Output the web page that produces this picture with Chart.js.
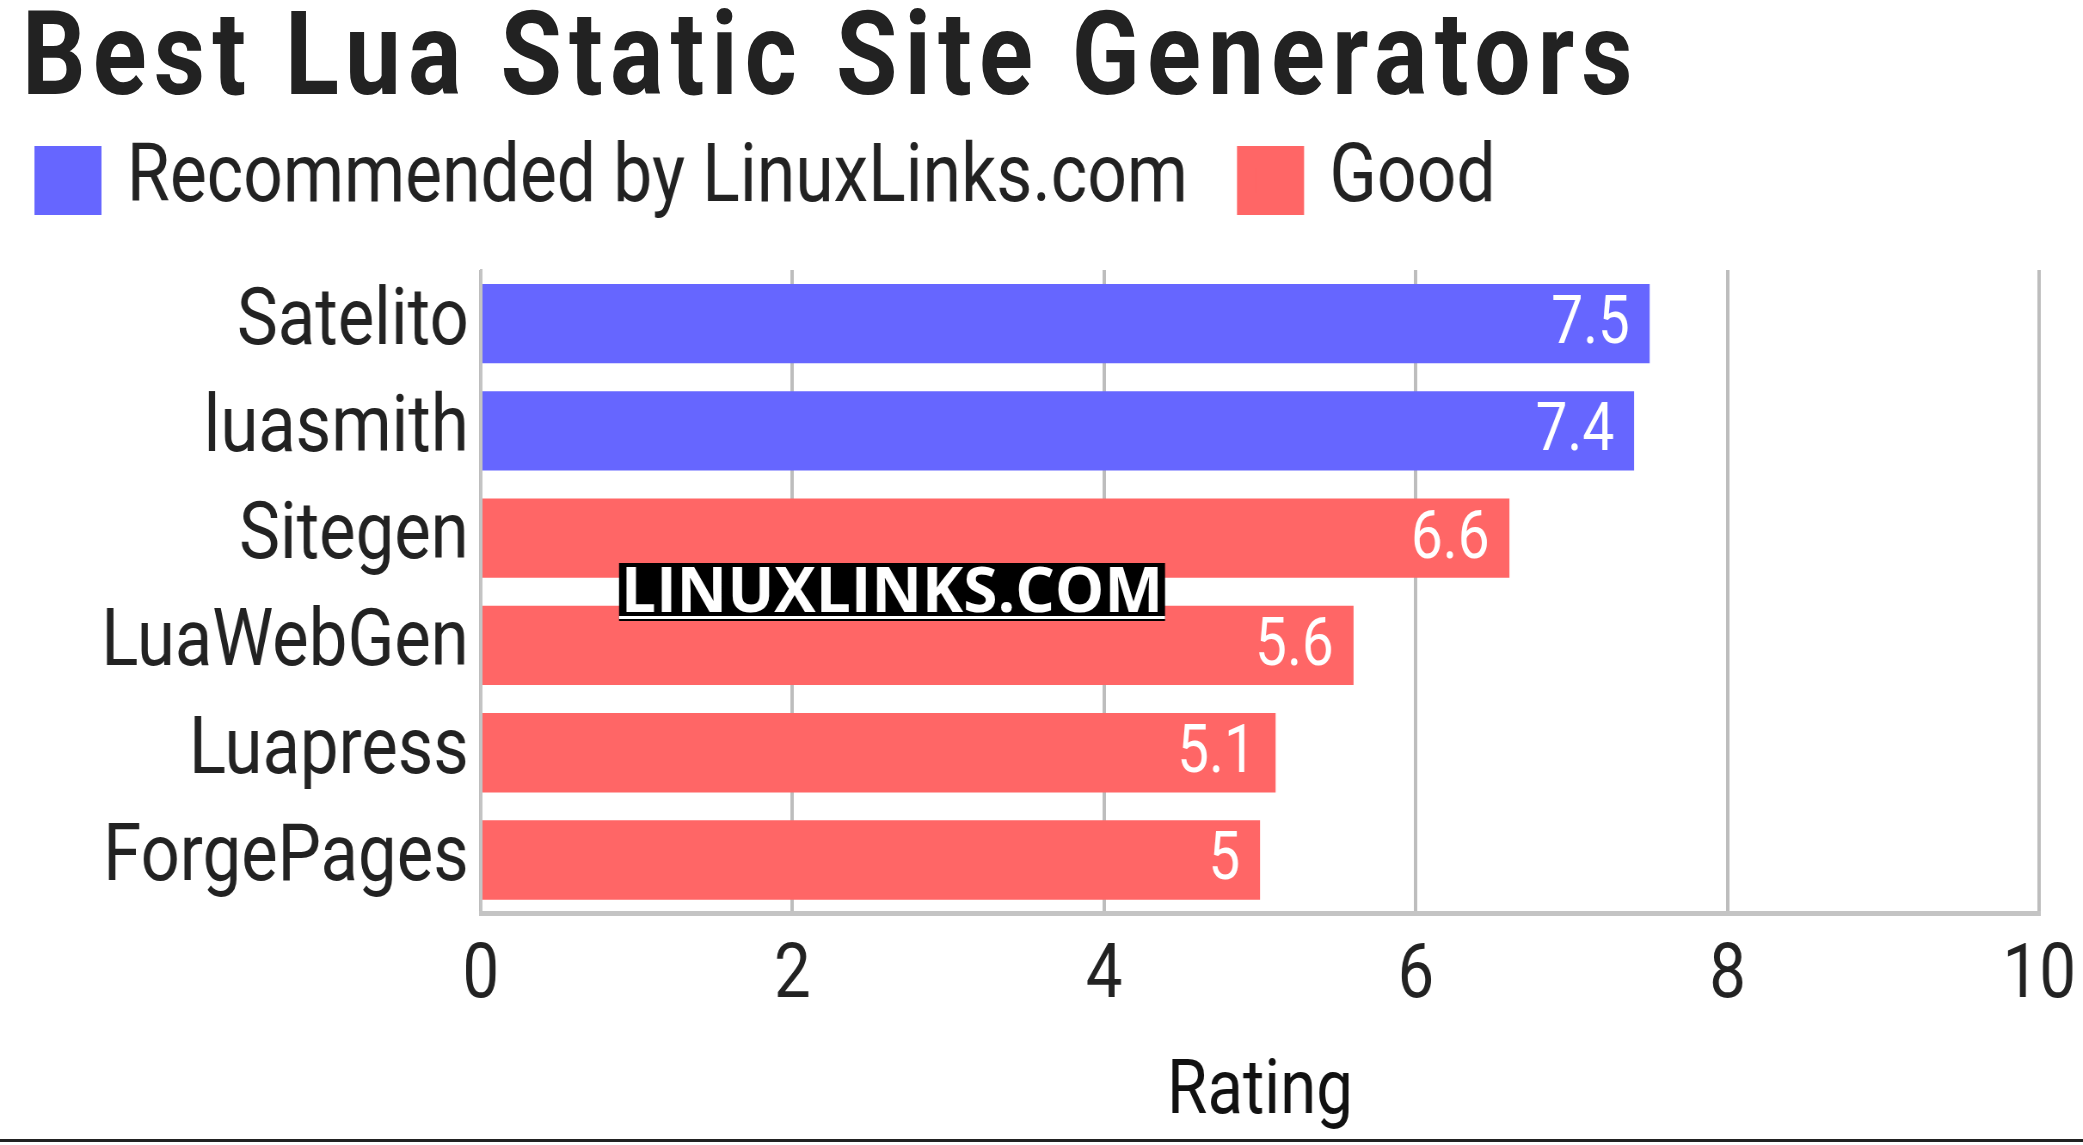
<!DOCTYPE html>
<html>
<head>
    <title>Best Lua Static Site Generators</title>
    <script src="https://cdn.jsdelivr.net/npm/chart.js"></script>
    <style>
        body { margin: 0; background: #fff; overflow: hidden; }
        .frame { width: 2083px; height: 1145px; position: relative; overflow: hidden; }
        h1 {
            position: absolute; left: 22px; top: -4px; margin: 0;
            font: bold 116px/116px Roboto, sans-serif; color: #222;
            letter-spacing: 8.3px; white-space: nowrap;
            transform: scaleX(0.86); transform-origin: 0 0;
        }
        /* condensed look: the chart is laid out wider and squeezed horizontally */
        .chart-box { width: 2422px; height: 1140px; transform: scaleX(0.86); transform-origin: 0 0; }
        .rule { position: absolute; left: 0; right: 0; top: 1139px; height: 3px; background: #222; }
    </style>
</head>
<body>
    <div class="frame">
        <div class="chart-box"><canvas id="ratingChart"></canvas></div>
        <h1>Best Lua Static Site Generators</h1>
        <div class="rule"></div>
    </div>

    <script>
        const categories = ['Satelito', 'luasmith', 'Sitegen', 'LuaWebGen', 'Luapress', 'ForgePages'];
        const recommended = [7.5, 7.4, null, null, null, null];
        const good = [null, null, 6.6, 5.6, 5.1, 5];
        const xTicks = [0, 2, 4, 6, 8, 10];

        const squeeze = 0.86;
        const textColor = '#222';

        // white value labels at the end of each bar
        const valueLabels = {
            id: 'valueLabels',
            afterDatasetsDraw(chart) {
                const ctx = chart.ctx;
                ctx.save();
                ctx.font = '66px Roboto';
                ctx.fillStyle = '#fff';
                ctx.textAlign = 'right';
                ctx.textBaseline = 'middle';
                chart.data.datasets.forEach((ds, i) => {
                    chart.getDatasetMeta(i).data.forEach((bar, j) => {
                        if (ds.data[j] == null) return;
                        ctx.fillText(String(ds.data[j]), bar.x - 23, bar.y + 3);
                    });
                });
                ctx.restore();
            }
        };

        // site stamp, drawn unsqueezed
        const watermark = {
            id: 'watermark',
            afterDraw(chart) {
                const ctx = chart.ctx;
                ctx.save();
                ctx.scale(1 / squeeze, 1);
                ctx.fillStyle = '#000';
                ctx.fillRect(619, 563, 546, 58);
                ctx.fillStyle = '#fff';
                ctx.fillRect(619, 616, 546, 3);
                ctx.font = 'bold 62px "Open Sans"';
                ctx.textBaseline = 'alphabetic';
                const w = ctx.measureText('LINUXLINKS.COM').width;
                ctx.translate(621, 612);
                ctx.scale(542 / w, 1);
                ctx.fillText('LINUXLINKS.COM', 0, 0);
                ctx.restore();
            }
        };

        // legend spacing tweaks
        const legendTweak = {
            id: 'legendTweak',
            beforeInit(chart) {
                const fit = chart.legend.fit;
                chart.legend.fit = function () {
                    fit.bind(chart.legend)();
                    this.height += 39;
                };
            },
            afterLayout(chart) {
                chart.legend.left -= 17;
            }
        };

        const ctx = document.getElementById('ratingChart').getContext('2d');
        new Chart(ctx, {
            type: 'bar',
            data: {
                labels: categories,
                datasets: [
                    { label: 'Recommended by LinuxLinks.com', data: recommended, backgroundColor: '#6666ff', borderWidth: 0 },
                    { label: 'Good', data: good, backgroundColor: '#ff6666', borderWidth: 0 }
                ]
            },
            options: {
                indexAxis: 'y',
                responsive: true,
                maintainAspectRatio: false,
                animation: false,
                events: [],
                layout: { padding: { left: 0, right: 0, top: 72, bottom: 0 } },
                datasets: { bar: { grouped: false, barPercentage: 0.74, categoryPercentage: 1 } },
                scales: {
                    x: {
                        min: 0,
                        max: 10,
                        z: 1,
                        afterBuildTicks: s => { s.ticks = xTicks.map(v => ({ value: v })); },
                        // let the last tick label run a little closer to the edge
                        afterFit: s => { s.paddingRight = Math.max(0, s.paddingRight - 11); },
                        grid: { color: 'rgba(0,0,0,0.26)', lineWidth: 4, drawTicks: false },
                        border: { display: true, color: '#c4c4c4', width: 5 },
                        ticks: { padding: 19, color: textColor, font: { family: 'Roboto', size: 76 } },
                        title: {
                            display: true, text: 'Rating', color: '#111',
                            font: { family: 'Roboto', size: 76 },
                            padding: { top: 6, bottom: 0 }
                        }
                    },
                    y: {
                        afterFit: s => { s.width = 559; },
                        grid: { display: false },
                        border: { display: true, color: '#c4c4c4', width: 3 },
                        ticks: { padding: 6, color: textColor, font: { family: 'Roboto', size: 80 } }
                    }
                },
                plugins: {
                    title: { display: false },
                    legend: {
                        align: 'start',
                        labels: {
                            boxWidth: 56,
                            boxHeight: 47,
                            padding: 68,
                            color: textColor,
                            font: { family: 'Roboto', size: 81 },
                            // thick same-colour stroke widens the swatch without widening the gap to the text
                            generateLabels: chart => Chart.defaults.plugins.legend.labels.generateLabels(chart)
                                .map(item => ({ ...item, lineWidth: 22, strokeStyle: item.fillStyle }))
                        }
                    },
                    tooltip: { enabled: false }
                }
            },
            plugins: [valueLabels, watermark, legendTweak]
        });
    </script>
</body>
</html>
